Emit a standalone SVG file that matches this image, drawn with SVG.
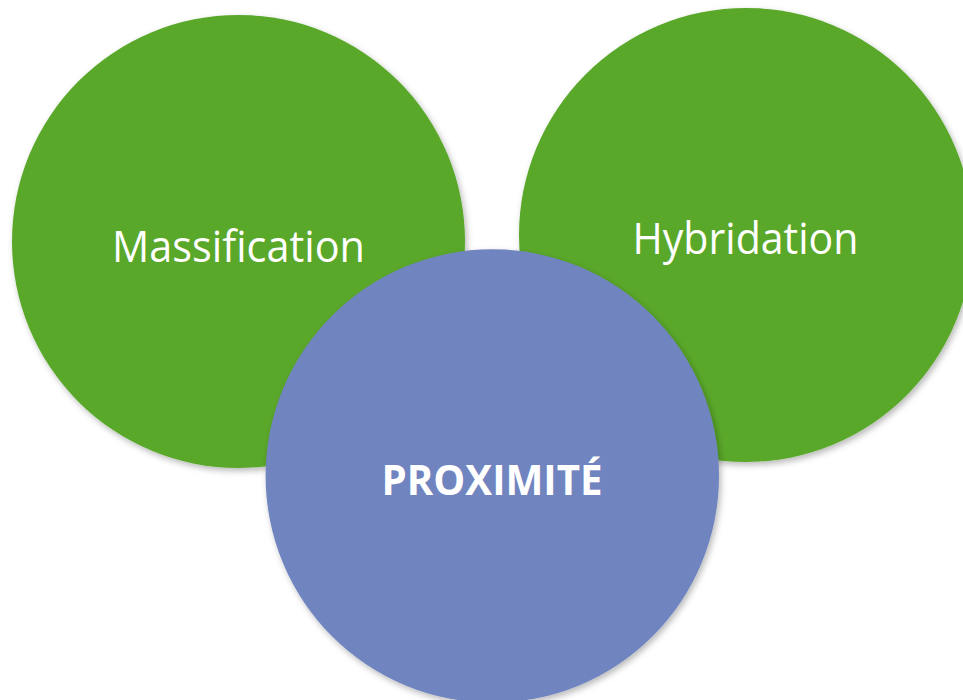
<svg xmlns="http://www.w3.org/2000/svg" width="963" height="700" viewBox="0 0 963 700">
  <defs>
    <filter id="soft" x="-10%" y="-10%" width="125%" height="125%">
      <feDropShadow dx="2" dy="3" stdDeviation="3" flood-color="#000" flood-opacity="0.28"/>
    </filter>
  </defs>
  <style>
    .green { fill: #5AA82C; filter: url(#soft); }
    .blue { fill: #7084C0; filter: url(#soft); }
    .label { fill: #ffffff; font-family: "Open Sans", "Noto Sans", "Liberation Sans", sans-serif; font-size: 43px; text-anchor: middle; }
    .bold { font-weight: bold; font-size: 41px; }
  </style>
  <rect width="963" height="700" fill="#ffffff"/>
  <g id="massification">
    <circle class="green" cx="238.5" cy="241.5" r="226.5"/>
    <text class="label" x="238.5" y="262" textLength="253" lengthAdjust="spacingAndGlyphs">Massification</text>
  </g>
  <g id="hybridation">
    <circle class="green" cx="746" cy="235" r="227"/>
    <text class="label" x="745.5" y="254" textLength="226" lengthAdjust="spacingAndGlyphs">Hybridation</text>
  </g>
  <g id="proximite">
    <circle class="blue" cx="492.3" cy="476" r="226.7"/>
    <text class="label bold" x="492" y="495" textLength="221" lengthAdjust="spacingAndGlyphs">PROXIMITÉ</text>
  </g>
</svg>
